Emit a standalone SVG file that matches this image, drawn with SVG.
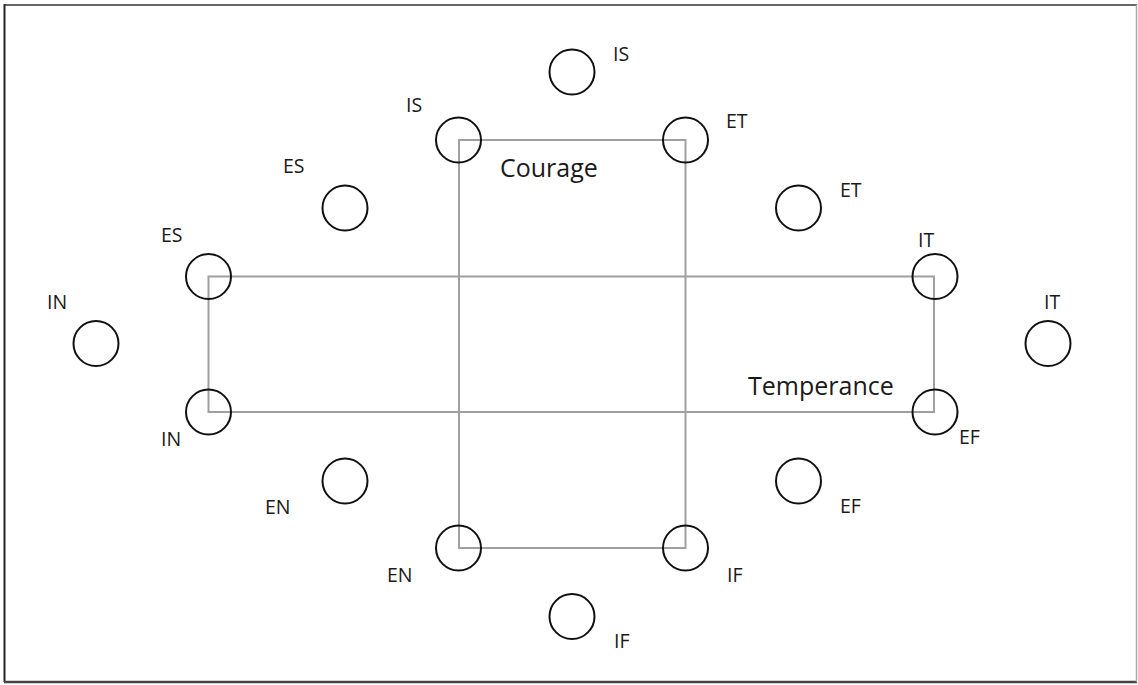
<svg xmlns="http://www.w3.org/2000/svg" width="1138" height="685" viewBox="0 0 1138 685">
<style>
.n{fill:none;stroke:#111;stroke-width:2}
.box{fill:none;stroke:#a0a0a0;stroke-width:2}
.t{font-family:"Open Sans","Liberation Sans",sans-serif;font-size:19.5px;fill:#1a1a1a}
.big{font-family:"Open Sans","Liberation Sans",sans-serif;font-size:25px;fill:#1a1a1a}
</style>
<rect width="1138" height="685" fill="#fff"/>
<g id="frame">
<line x1="4.5" y1="4" x2="4.5" y2="682" stroke="#222" stroke-width="2"/>
<line x1="4" y1="5" x2="1137" y2="5" stroke="#333" stroke-width="1.5"/>
<line x1="4" y1="682" x2="1137" y2="682" stroke="#444" stroke-width="2.5"/>
<line x1="1136.5" y1="5" x2="1136.5" y2="682" stroke="#aaa" stroke-width="1.5"/>
</g>
<g id="connectors">
<rect id="temperance-box" class="box" x="208.5" y="276.5" width="725.5" height="135.5"/>
<rect id="courage-box" class="box" x="459" y="140" width="226.5" height="408"/>
</g>
<g id="courage-label"><text class="big" x="500" y="177">Courage</text></g>
<g id="temperance-label"><text class="big" x="748" y="395">Temperance</text></g>
<g id="n-is-top"><circle class="n" cx="572" cy="72" r="22.5"/><text class="t" x="613" y="61">IS</text></g>
<g id="n-is-left"><circle class="n" cx="458.5" cy="140" r="22.5"/><text class="t" x="406" y="112">IS</text></g>
<g id="n-et-top"><circle class="n" cx="685.5" cy="140" r="22.5"/><text class="t" x="726" y="128">ET</text></g>
<g id="n-es-upper"><circle class="n" cx="345" cy="208" r="22.5"/><text class="t" x="283" y="173">ES</text></g>
<g id="n-et-upper"><circle class="n" cx="798.5" cy="208" r="22.5"/><text class="t" x="840" y="197">ET</text></g>
<g id="n-es-left"><circle class="n" cx="208.5" cy="276.5" r="22.5"/><text class="t" x="161" y="242">ES</text></g>
<g id="n-it-right"><circle class="n" cx="935" cy="276.5" r="22.5"/><text class="t" x="918" y="247">IT</text></g>
<g id="n-in-far"><circle class="n" cx="96" cy="343.5" r="22.5"/><text class="t" x="47" y="309">IN</text></g>
<g id="n-it-far"><circle class="n" cx="1048" cy="343.5" r="22.5"/><text class="t" x="1044" y="309">IT</text></g>
<g id="n-in-left"><circle class="n" cx="208.5" cy="412" r="22.5"/><text class="t" x="161" y="446">IN</text></g>
<g id="n-ef-right"><circle class="n" cx="935" cy="412" r="22.5"/><text class="t" x="959" y="444">EF</text></g>
<g id="n-en-lower"><circle class="n" cx="345" cy="481" r="22.5"/><text class="t" x="265" y="514">EN</text></g>
<g id="n-ef-lower"><circle class="n" cx="798.5" cy="481" r="22.5"/><text class="t" x="840" y="513">EF</text></g>
<g id="n-en-bottom"><circle class="n" cx="458.5" cy="548" r="22.5"/><text class="t" x="387" y="582">EN</text></g>
<g id="n-if-bottom"><circle class="n" cx="685.5" cy="548" r="22.5"/><text class="t" x="727" y="582">IF</text></g>
<g id="n-if-low"><circle class="n" cx="572" cy="616.5" r="22.5"/><text class="t" x="614" y="648">IF</text></g>
</svg>
